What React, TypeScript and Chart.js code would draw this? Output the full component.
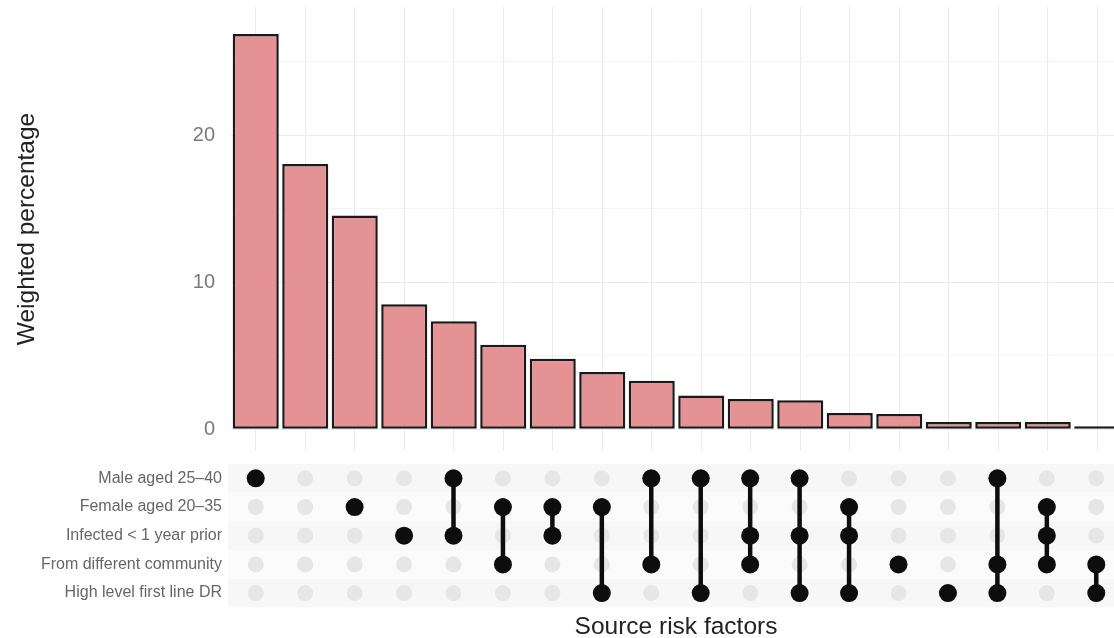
import React, { useEffect, useRef } from "react";
import { Chart, registerables } from "chart.js";

Chart.register(...registerables);

// ---- data ----
const setNames: string[] = [
  "Male aged 25–40",
  "Female aged 20–35",
  "Infected < 1 year prior",
  "From different community",
  "High level first line DR",
];

// membership of each intersection column (indices into setNames)
const memberships: number[][] = [
  [0],
  [],
  [1],
  [2],
  [0, 2],
  [1, 3],
  [1, 2],
  [1, 4],
  [0, 3],
  [0, 4],
  [0, 2, 3],
  [0, 2, 4],
  [1, 2, 4],
  [3],
  [4],
  [0, 3, 4],
  [1, 2, 3],
  [3, 4],
];

const weightedPercentage: number[] = [
  26.9, 18.05, 14.55, 8.5, 7.35, 5.75, 4.8, 3.9, 3.3, 2.3, 2.05, 1.97, 1.1, 1.03,
  0.5, 0.5, 0.5, 0.2,
];

const yGridValues: number[] = [0, 5, 10, 15, 20, 25];
const yLabelValues: number[] = [0, 10, 20];

const yTitle = "Weighted percentage";
const xTitle = "Source risk factors";

// ---- styles ----
const FONT = "'Liberation Sans', Arial, Helvetica, sans-serif";
const CANVAS_W = 1130;
const AXIS_W = 231;
const RIGHT_PAD = 8;
const BAR_H = 455;
const MAT_TOP = 455;
const MAT_H = 190;

const fixAxis = (s: any) => {
  s.width = AXIS_W;
  s.paddingTop = 0;
  s.paddingBottom = 0;
};

export default function App() {
  const barRef = useRef<HTMLCanvasElement>(null);
  const matRef = useRef<HTMLCanvasElement>(null);

  useEffect(() => {
    const labels = memberships.map((m) =>
      m.length ? m.map((i) => setNames[i]).join(" & ") : "None"
    );

    const bar = new Chart(barRef.current as HTMLCanvasElement, {
      type: "bar",
      data: {
        labels,
        datasets: [
          {
            data: weightedPercentage,
            backgroundColor: "#e59294",
            borderColor: "#1a1a1a",
            borderWidth: 2.5,
            borderSkipped: false,
            barPercentage: 0.93,
            categoryPercentage: 1,
          },
        ],
      },
      options: {
        responsive: false,
        animation: false,
        devicePixelRatio: 1,
        layout: { padding: { top: 7, right: RIGHT_PAD, bottom: 4, left: 0 } },
        plugins: { legend: { display: false }, tooltip: { enabled: false } },
        scales: {
          x: {
            grid: { display: true, offset: false, color: "#ececec", lineWidth: 1.1, drawTicks: false },
            border: { display: false },
            ticks: { display: false },
            afterFit: (s: any) => {
              s.height = 0;
              s.paddingLeft = 0;
              s.paddingRight = 0;
            },
          },
          y: {
            min: -1.48,
            max: 28.73,
            afterBuildTicks: (s: any) => {
              s.ticks = yGridValues.map((v) => ({ value: v }));
            },
            afterFit: fixAxis,
            grid: {
              drawTicks: false,
              color: (ctx: any) => (yLabelValues.includes(ctx.tick?.value) ? "#ebebeb" : "#f3f3f3"),
              lineWidth: (ctx: any) => (yLabelValues.includes(ctx.tick?.value) ? 1.1 : 0.9),
            },
            border: { display: false },
            ticks: {
              padding: 16,
              color: "#7a7a7a",
              font: { family: FONT, size: 20 },
              callback: (v: any) => (yLabelValues.includes(Number(v)) ? String(v) : ""),
            },
            title: {
              display: true,
              text: yTitle,
              color: "#222",
              font: { family: FONT, size: 24.5 },
              padding: { top: 13, bottom: 0 },
            },
          },
        },
      },
    });

    const grayPts: { x: number; y: number }[] = [];
    memberships.forEach((_, c) => setNames.forEach((_, r) => grayPts.push({ x: c, y: r })));
    const blackPts: { x: number; y: number }[] = [];
    memberships.forEach((m, c) => m.forEach((r) => blackPts.push({ x: c, y: r })));
    const linePts: { x: number; y: number | null }[] = [];
    memberships.forEach((m, c) => {
      if (m.length > 1) {
        linePts.push({ x: c, y: Math.min(...m) });
        linePts.push({ x: c, y: Math.max(...m) });
        linePts.push({ x: c, y: null });
      }
    });

    const stripes = {
      id: "stripes",
      beforeDatasetsDraw(chart: any) {
        const { ctx, chartArea, scales } = chart;
        const ys = scales.y;
        ctx.save();
        setNames.forEach((_, r) => {
          const a = ys.getPixelForValue(r - 0.5);
          const b = ys.getPixelForValue(r + 0.5);
          ctx.fillStyle = r % 2 === 0 ? "#f7f7f7" : "#fbfbfb";
          ctx.fillRect(chartArea.left - 3, Math.min(a, b), chartArea.right - chartArea.left + 3, Math.abs(b - a));
        });
        ctx.restore();
      },
    };

    const mat = new Chart(matRef.current as HTMLCanvasElement, {
      type: "scatter",
      data: {
        datasets: [
          {
            data: blackPts,
            pointRadius: 9,
            pointHoverRadius: 9,
            pointBackgroundColor: "#0d0d0d",
            pointBorderWidth: 0,
            order: 1,
          },
          {
            data: linePts as any,
            showLine: true,
            spanGaps: false,
            borderColor: "#0d0d0d",
            borderWidth: 4.5,
            pointRadius: 0,
            pointHoverRadius: 0,
            order: 2,
          },
          {
            data: grayPts,
            pointRadius: 8,
            pointHoverRadius: 8,
            pointBackgroundColor: "#e6e6e6",
            pointBorderWidth: 0,
            order: 3,
          },
        ],
      },
      options: {
        responsive: false,
        animation: false,
        devicePixelRatio: 1,
        layout: { padding: { top: 5.7, right: RIGHT_PAD, bottom: 0, left: 0 } },
        plugins: { legend: { display: false }, tooltip: { enabled: false } },
        scales: {
          x: {
            type: "linear",
            min: -0.5,
            max: memberships.length - 0.5,
            grid: { display: false, drawTicks: false },
            border: { display: false },
            ticks: { display: false },
            afterFit: (s: any) => {
              s.paddingLeft = 0;
              s.paddingRight = 0;
            },
            title: {
              display: true,
              text: xTitle,
              color: "#222",
              font: { family: FONT, size: 24.5 },
              padding: { top: 5.6, bottom: 2.6 },
            },
          },
          y: {
            type: "linear",
            min: -0.5,
            max: setNames.length - 0.5,
            reverse: true,
            afterBuildTicks: (s: any) => {
              s.ticks = setNames.map((_, i) => ({ value: i }));
            },
            afterFit: fixAxis,
            grid: { display: false, drawTicks: false },
            border: { display: false },
            ticks: {
              padding: 9,
              color: "#666",
              font: { family: FONT, size: 16 },
              callback: (v: any) => setNames[Number(v)] ?? "",
            },
          },
        },
      },
      plugins: [stripes],
    });

    return () => {
      bar.destroy();
      mat.destroy();
    };
  }, []);

  return (
    <div
      style={{
        position: "absolute",
        left: 0,
        top: 0,
        width: 1114,
        height: 638,
        overflow: "hidden",
        background: "#fff",
      }}
    >
      <canvas
        ref={barRef}
        width={CANVAS_W}
        height={BAR_H}
        style={{ position: "absolute", left: 0, top: 0, display: "block" }}
      />
      <canvas
        ref={matRef}
        width={CANVAS_W}
        height={MAT_H}
        style={{ position: "absolute", left: 0, top: MAT_TOP, display: "block" }}
      />
    </div>
  );
}
